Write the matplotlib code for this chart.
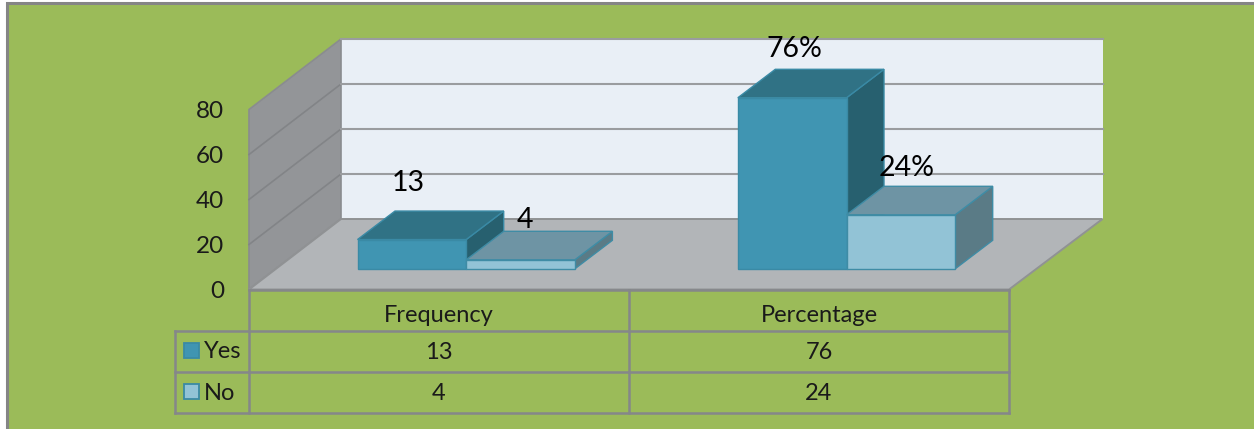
import matplotlib
matplotlib.use("Agg")
from matplotlib import pyplot as plt
from matplotlib.patches import Polygon, Rectangle

# data
categories = ["Frequency", "Percentage"]
series_names = ["Yes", "No"]
yes_values = [13, 76]
no_values = [4, 24]
yes_labels = ["13", "76%"]
no_labels = ["4", "24%"]
axis_ticks = [0, 20, 40, 60, 80]

GREEN = "#9BBB59"
GRID = "#9A9C9F"
TABLE_LINE = "#85878A"
YES_COLORS = ("#4095B2", "#307285", "#27606F")
NO_COLORS = ("#92C3D6", "#6E94A4", "#5A7B86")
YES_EDGE = "#3A8AA5"
NO_EDGE = "#3F8CA5"
TEXT = "#1a1a1a"

plt.rcParams["font.family"] = ["Lato", "DejaVu Sans"]

# chart geometry in image pixels
SCALE = 2.25
FRONT_X0, FRONT_X1, FRONT_Y = 249, 1009, 289.5
BACK_DX, BACK_DY = 92, -70.5
BAR_Y = 268.8
BAR_DX, BAR_DY = 37.5, -28.5
BAR_W = 108.7
GROUP_X = [357.5, 737.8]
TABLE_X = [175, 249, 629, 1009]
TABLE_Y = [290, 330.5, 371.5, 413]


def poly(ax, pts, face, edge="none", lw=0.0, z=2):
    ax.add_patch(Polygon(pts, closed=True, facecolor=face, edgecolor=edge, linewidth=lw, zorder=z))


def draw_bar(ax, x, value, colors, edge, z):
    top = BAR_Y - value * SCALE
    front, roof, side = colors
    poly(ax, [(x + BAR_W, BAR_Y), (x + BAR_W + BAR_DX, BAR_Y + BAR_DY),
              (x + BAR_W + BAR_DX, top + BAR_DY), (x + BAR_W, top)], side, edge, 1.0, z)
    poly(ax, [(x, top), (x + BAR_W, top), (x + BAR_W + BAR_DX, top + BAR_DY),
              (x + BAR_DX, top + BAR_DY)], roof, edge, 1.0, z)
    poly(ax, [(x, BAR_Y), (x + BAR_W, BAR_Y), (x + BAR_W, top), (x, top)], front, edge, 1.0, z)


fig = plt.figure(figsize=(12.54, 4.29), dpi=100, facecolor="white")
ax = fig.add_axes([0, 0, 1, 1])
ax.set_xlim(0, 1254)
ax.set_ylim(429, 0)
ax.axis("off")

# background with the frame on the top and left only
ax.add_patch(Rectangle((7, 3), 1260, 440, facecolor=GREEN, edgecolor="#858585", linewidth=2.2, zorder=0))

top_value = axis_ticks[-1]
wall_h = top_value * SCALE
back_y = FRONT_Y + BACK_DY
back_x0 = FRONT_X0 + BACK_DX
back_x1 = FRONT_X1 + BACK_DX + 1.5

# back wall, side wall, floor
poly(ax, [(back_x0, back_y), (back_x1, back_y), (back_x1, back_y - wall_h), (back_x0, back_y - wall_h)],
     "#E9EFF6", "none", 0, 1)
ax.plot([back_x0, back_x1], [back_y - wall_h, back_y - wall_h], color=GRID, lw=1.5, zorder=1.5)
poly(ax, [(FRONT_X0, FRONT_Y), (back_x0, back_y), (back_x0, back_y - wall_h), (FRONT_X0, FRONT_Y - wall_h)],
     "#939598", "#8A8C8F", 1.2, 1)
poly(ax, [(FRONT_X0, FRONT_Y), (FRONT_X1, FRONT_Y), (back_x1, back_y), (back_x0, back_y)],
     "#B2B5B8", "#909294", 1.4, 1.6)

# gridlines and axis labels
for t in axis_ticks:
    y = FRONT_Y - t * SCALE
    if 0 < t < top_value:
        ax.plot([FRONT_X0, back_x0], [y, y + BACK_DY], color="#828487", lw=1.2, zorder=1.5)
        ax.plot([back_x0, back_x1], [y + BACK_DY, y + BACK_DY], color=GRID, lw=1.5, zorder=1.5)
    ax.text(224, y + 2, str(t), ha="right", va="center", fontsize=17.5, color=TEXT, zorder=5)

# bars
for i, x in enumerate(GROUP_X):
    draw_bar(ax, x, yes_values[i], YES_COLORS, YES_EDGE, 3 + i)
    draw_bar(ax, x + BAR_W, no_values[i], NO_COLORS, NO_EDGE, 3.5 + i)

# value labels
yes_offsets = [(51, -57), (57, -49)]
no_offsets = [(59, -40), (60, -47)]
for i, x in enumerate(GROUP_X):
    ax.text(x + yes_offsets[i][0], BAR_Y - yes_values[i] * SCALE + yes_offsets[i][1], yes_labels[i],
            ha="center", va="center", fontsize=20.5, color="black", zorder=6)
    ax.text(x + BAR_W + no_offsets[i][0], BAR_Y - no_values[i] * SCALE + no_offsets[i][1], no_labels[i],
            ha="center", va="center", fontsize=20.5, color="black", zorder=6)

# data table
for y in TABLE_Y:
    ax.plot([TABLE_X[0] if y > TABLE_Y[0] else TABLE_X[1], TABLE_X[-1]], [y, y], color=TABLE_LINE, lw=1.8, zorder=2)
ax.plot([TABLE_X[0], TABLE_X[0]], [TABLE_Y[1], TABLE_Y[-1]], color=TABLE_LINE, lw=1.8, zorder=2)
for x in TABLE_X[1:]:
    ax.plot([x, x], [TABLE_Y[0], TABLE_Y[-1]], color=TABLE_LINE, lw=1.8, zorder=2)

for i, cat in enumerate(categories):
    cx = (TABLE_X[i + 1] + TABLE_X[i + 2]) / 2
    ax.text(cx, 316, cat, ha="center", va="center", fontsize=17, color=TEXT)
    ax.text(cx, 352.5, str(yes_values[i]), ha="center", va="center", fontsize=17, color=TEXT)
    ax.text(cx, 393.5, str(no_values[i]), ha="center", va="center", fontsize=17, color=TEXT)

swatches = [(YES_COLORS[0], 343), (NO_COLORS[0], 384)]
for name, (col, y) in zip(series_names, swatches):
    ax.add_patch(Rectangle((184, y), 15, 15, facecolor=col, edgecolor=YES_EDGE, linewidth=1.3, zorder=3))
    ax.text(204, y + 9, name, ha="left", va="center", fontsize=17, color=TEXT)

fig.savefig("out.png", dpi=100, facecolor="white")
